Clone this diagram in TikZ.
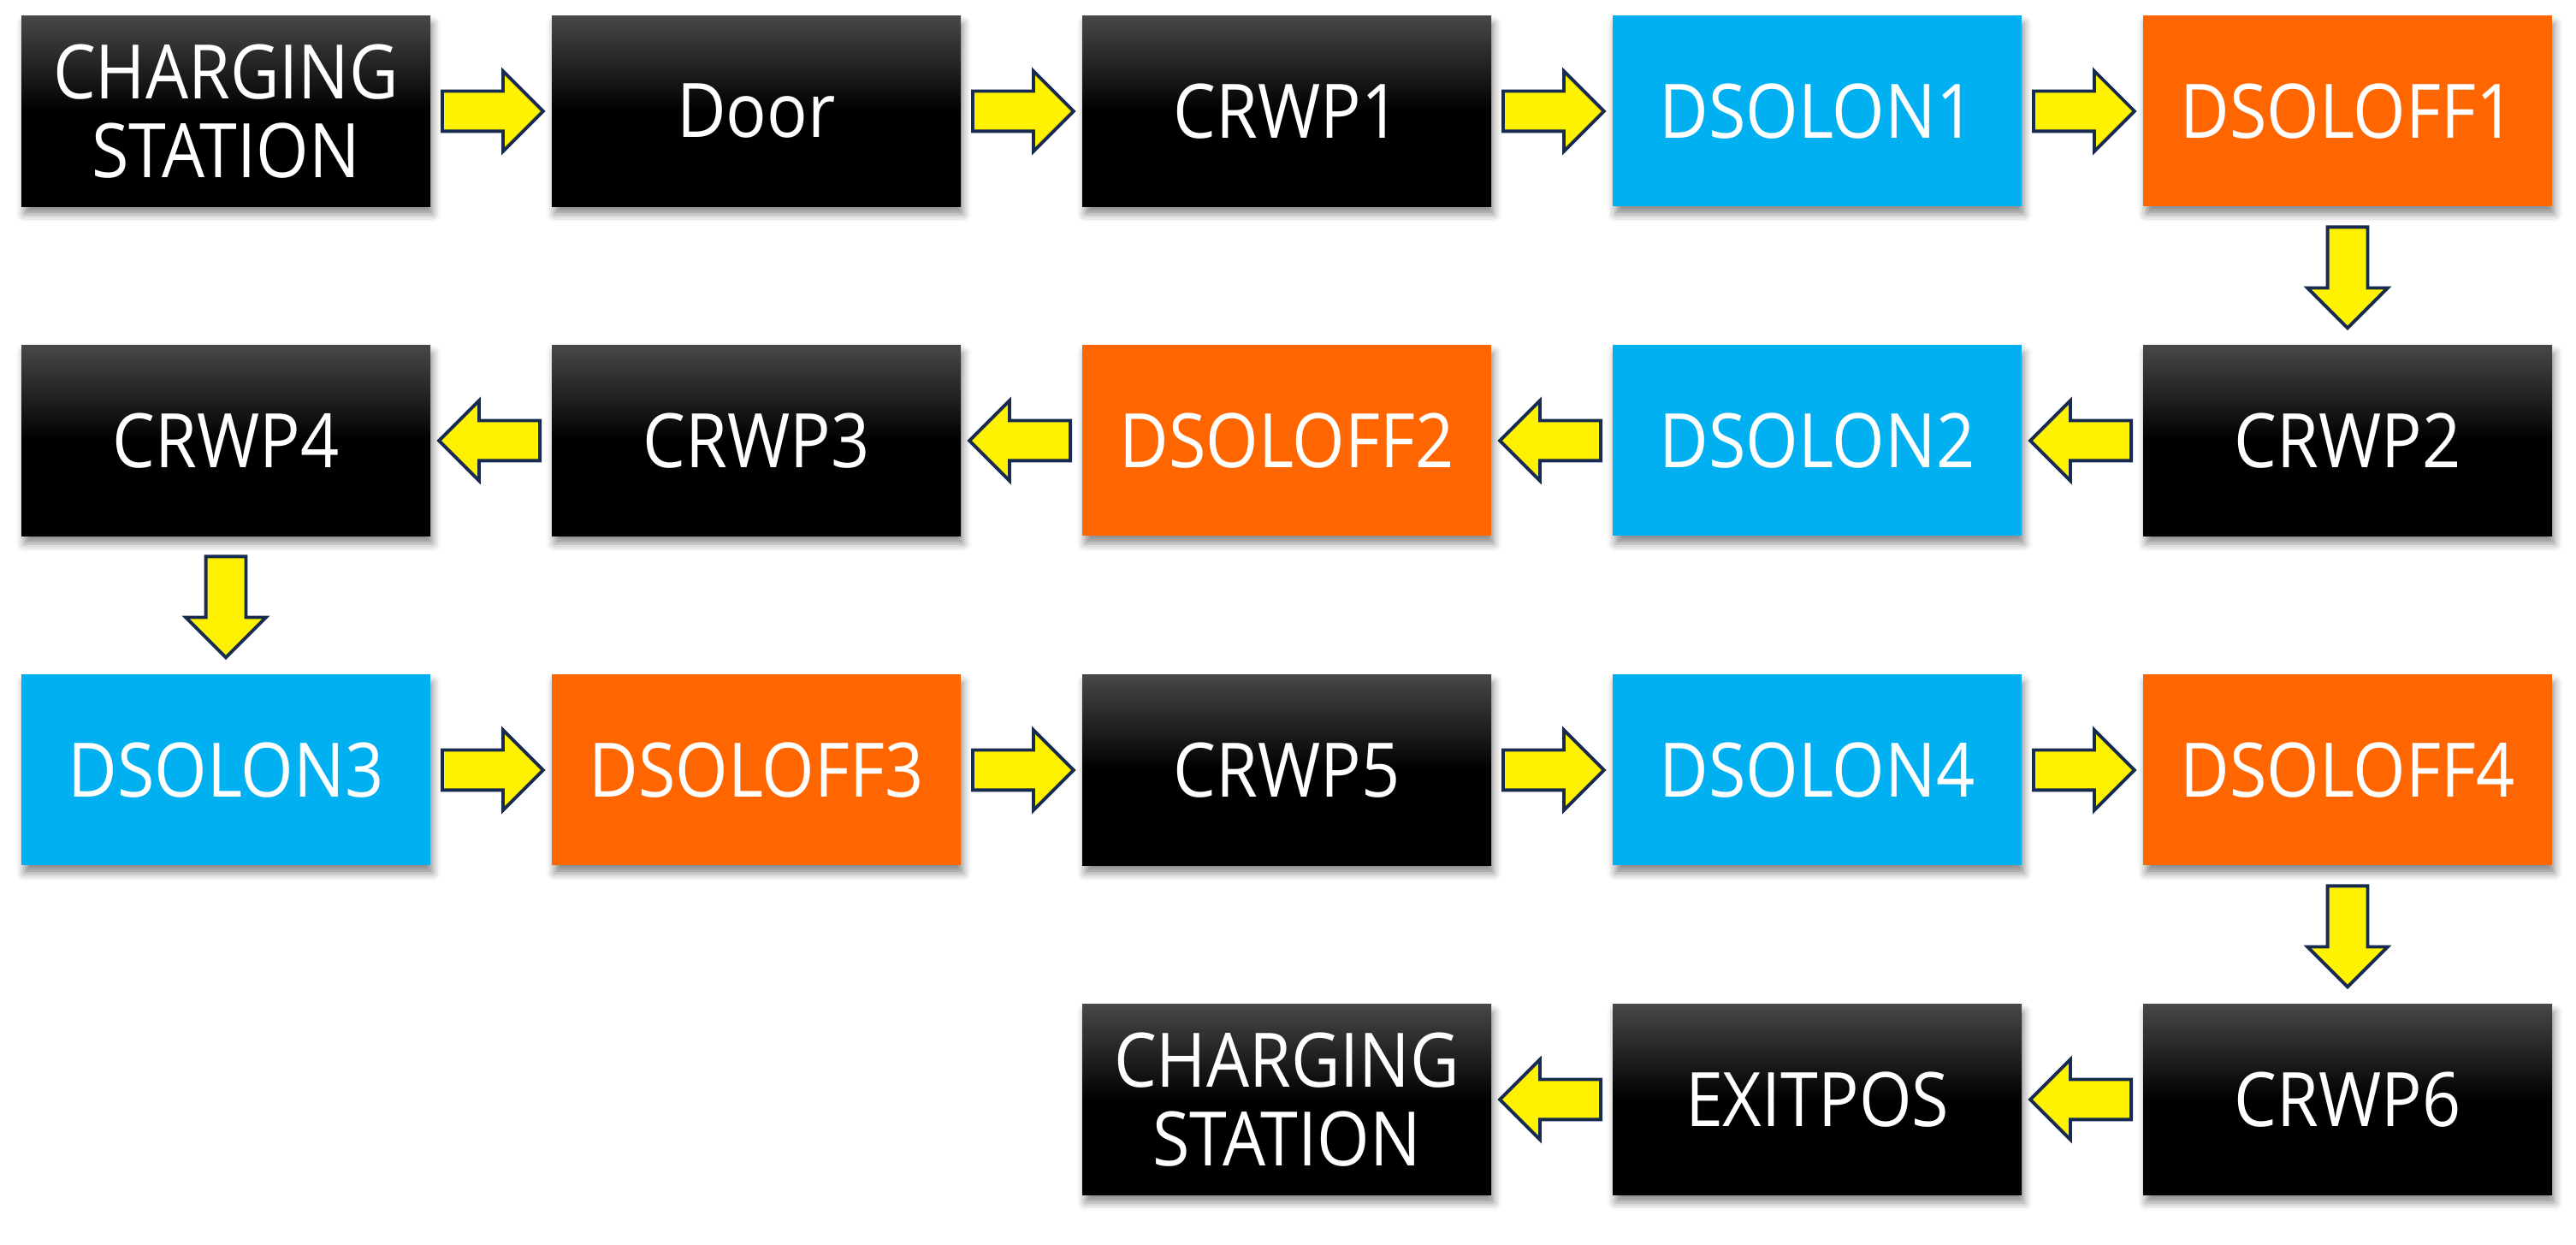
\documentclass[tikz,border=0pt]{standalone}
\usepackage{fontspec}
\setmainfont{Open Sans}[FakeStretch=0.9]
\usetikzlibrary{shapes.arrows,calc,shadows.blur}
\definecolor{dsblue}{RGB}{0,176,240}
\definecolor{dsorange}{RGB}{255,102,0}
\definecolor{arrowline}{RGB}{23,43,80}
\begin{document}
\begin{tikzpicture}[font=\fontsize{25}{26}\selectfont,
base box/.style={rectangle,minimum width=4.78cm,minimum height=2.23cm,text=white,align=center,inner sep=0pt,
  blur shadow={shadow xshift=0.03cm,shadow yshift=-0.09cm,shadow blur radius=0.09cm,shadow opacity=45}},
wp box/.style={base box,top color=black!72,bottom color=black,middle color=black},
on box/.style={base box,fill=dsblue},
off box/.style={base box,fill=dsorange},
flow arrow/.style={single arrow,draw=arrowline,fill=yellow,line width=1.1pt,minimum height=1.18cm,anchor=tail,
  minimum width=0pt,inner sep=0.215cm,single arrow head extend=0.235cm,single arrow tip angle=90},
go right/.style={flow arrow,shape border rotate=0},
go left/.style={flow arrow,shape border rotate=180},
go down/.style={flow arrow,shape border rotate=270}]
\useasboundingbox (0,0) rectangle (30.11,14.55);
%row 1
\node[wp box] (cs1) at (2.64,13.25) {CHARGING\\STATION};
\node[wp box] (door) at (8.84,13.25) {Door};
\node[wp box] (crwp1) at (15.04,13.25) {CRWP1};
\node[on box] (dson1) at (21.24,13.25) {DSOLON1};
\node[off box] (dsoff1) at (27.44,13.25) {DSOLOFF1};
%row 2
\node[wp box] (crwp4) at (2.64,9.40) {CRWP4};
\node[wp box] (crwp3) at (8.84,9.40) {CRWP3};
\node[off box] (dsoff2) at (15.04,9.40) {DSOLOFF2};
\node[on box] (dson2) at (21.24,9.40) {DSOLON2};
\node[wp box] (crwp2) at (27.44,9.40) {CRWP2};
%row 3
\node[on box] (dson3) at (2.64,5.55) {DSOLON3};
\node[off box] (dsoff3) at (8.84,5.55) {DSOLOFF3};
\node[wp box] (crwp5) at (15.04,5.55) {CRWP5};
\node[on box] (dson4) at (21.24,5.55) {DSOLON4};
\node[off box] (dsoff4) at (27.44,5.55) {DSOLOFF4};
%row 4
\node[wp box] (cs2) at (15.04,1.70) {CHARGING\\STATION};
\node[wp box] (exitpos) at (21.24,1.70) {EXITPOS};
\node[wp box] (crwp6) at (27.44,1.70) {CRWP6};
%arrows (tail half a length before the middle of the gap)
\node[go right] (a1) at ($(cs1.east)!0.5!(door.west)+(-0.59,0)$) {};
\node[go right] (a2) at ($(door.east)!0.5!(crwp1.west)+(-0.59,0)$) {};
\node[go right] (a3) at ($(crwp1.east)!0.5!(dson1.west)+(-0.59,0)$) {};
\node[go right] (a4) at ($(dson1.east)!0.5!(dsoff1.west)+(-0.59,0)$) {};
\node[go down] (a5) at ($(dsoff1.south)!0.5!(crwp2.north)+(0,0.59)$) {};
\node[go left] (a6) at ($(crwp2.west)!0.5!(dson2.east)+(0.59,0)$) {};
\node[go left] (a7) at ($(dson2.west)!0.5!(dsoff2.east)+(0.59,0)$) {};
\node[go left] (a8) at ($(dsoff2.west)!0.5!(crwp3.east)+(0.59,0)$) {};
\node[go left] (a9) at ($(crwp3.west)!0.5!(crwp4.east)+(0.59,0)$) {};
\node[go down] (a10) at ($(crwp4.south)!0.5!(dson3.north)+(0,0.59)$) {};
\node[go right] (a11) at ($(dson3.east)!0.5!(dsoff3.west)+(-0.59,0)$) {};
\node[go right] (a12) at ($(dsoff3.east)!0.5!(crwp5.west)+(-0.59,0)$) {};
\node[go right] (a13) at ($(crwp5.east)!0.5!(dson4.west)+(-0.59,0)$) {};
\node[go right] (a14) at ($(dson4.east)!0.5!(dsoff4.west)+(-0.59,0)$) {};
\node[go down] (a15) at ($(dsoff4.south)!0.5!(crwp6.north)+(0,0.59)$) {};
\node[go left] (a16) at ($(crwp6.west)!0.5!(exitpos.east)+(0.59,0)$) {};
\node[go left] (a17) at ($(exitpos.west)!0.5!(cs2.east)+(0.59,0)$) {};
\end{tikzpicture}
\end{document}
